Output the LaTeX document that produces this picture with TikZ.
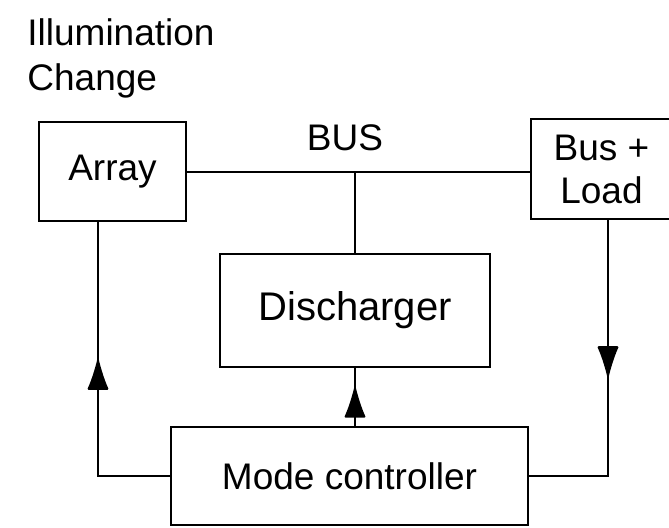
\documentclass[tikz,border=0pt]{standalone}
\usepackage{fontspec}
\setmainfont{Liberation Sans}
\usetikzlibrary{arrows.meta,decorations.markings}

\tikzset{
  txt/.style={font=\fontsize{18.5}{21.5}\selectfont},
  blk/.style={txt,draw,line width=1.2pt,inner sep=0pt,align=center},
  conn/.style={line width=1pt},
  midarr/.style={postaction={decorate},decoration={markings,
    mark=at position #1 with {\arrow{Latex[round,length=17pt,width=11pt]}}}}
}

\begin{document}
\begin{tikzpicture}[x=0.5pt,y=-0.5pt]
  \useasboundingbox (0,0) rectangle (669,527);
  % titulo
  \node[txt,anchor=base west,inner sep=0pt] (illum) at (27,45) {Illumination};
  \node[txt,anchor=base west,inner sep=0pt] (chg) at (27,90) {Change};
  % bloques
  \node[blk,minimum width=73.5pt,minimum height=49.5pt] (array) at (112.5,171.5) {Array};
  \node[blk,minimum width=70.5pt,minimum height=50pt] (busload) at (601.5,169) {Bus +\\Load};
  \node[blk,minimum width=135pt,minimum height=56.5pt,font=\fontsize{20}{24}\selectfont] (disch) at (355,310.5) {Discharger};
  \node[blk,minimum width=178.5pt,minimum height=49pt] (mode) at (349.5,476) {Mode controller};
  \node[txt] (buslbl) at (345,138) {BUS};
  % bus
  \draw[conn] (array.east) -- (busload.west |- array.east);
  \draw[conn] (disch.north) -- (disch.north |- array.east);
  % lazos de control
  \coordinate (arrin) at (98,221);
  \coordinate (loadout) at (608,219);
  \draw[conn,midarr=0.576] (mode.west) -| (arrin);
  \draw[conn,midarr=0.469] (loadout) |- (mode.east);
  \draw[conn,midarr=0.667] (mode.north -| disch.north) -- (disch.south);
\end{tikzpicture}
\end{document}
